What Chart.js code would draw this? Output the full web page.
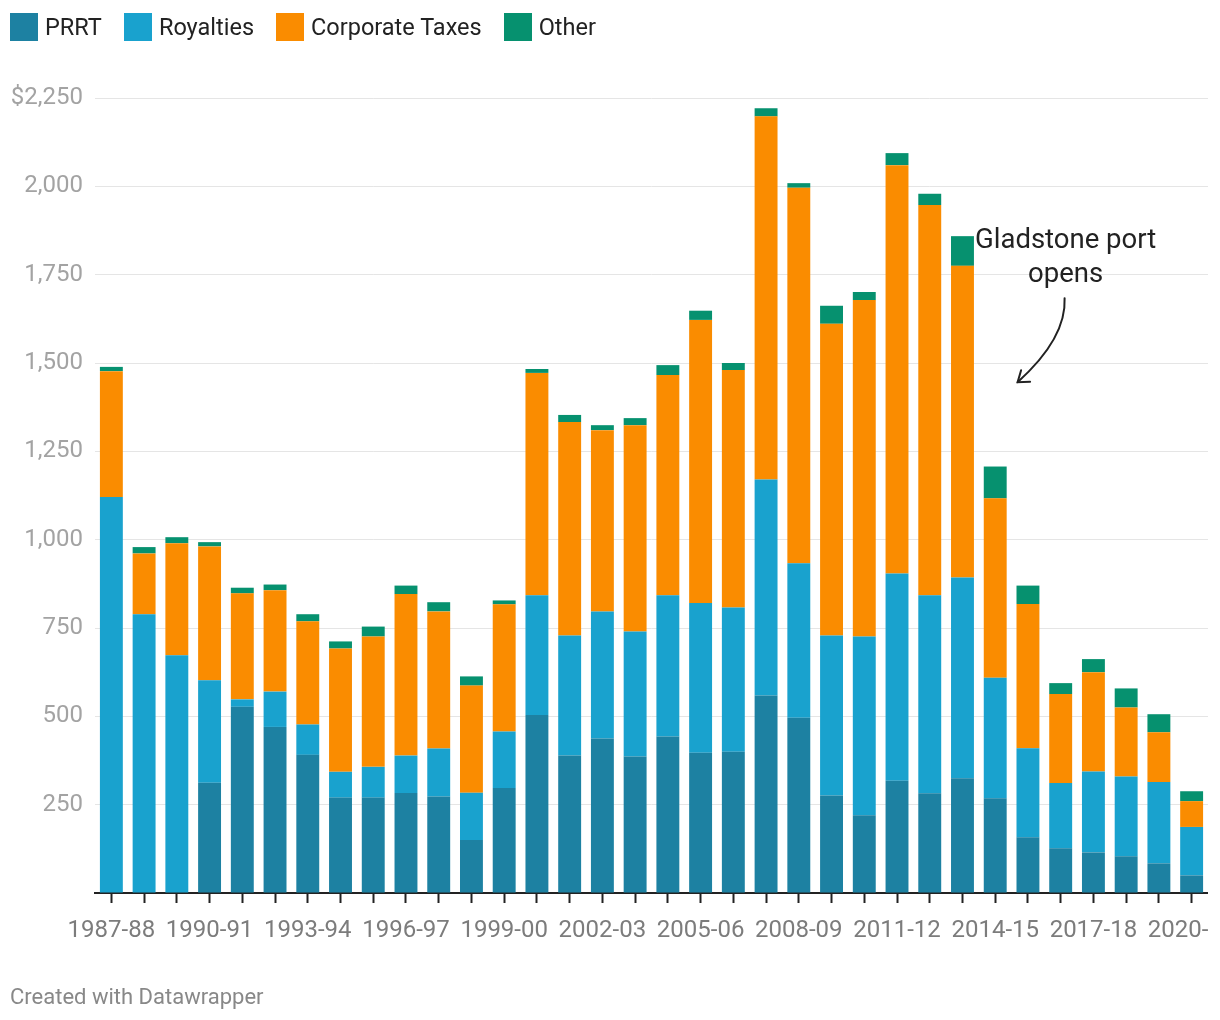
<!DOCTYPE html>
<html>
<head>
<meta charset="utf-8">
<script src="https://cdn.jsdelivr.net/npm/chart.js@4"></script>
<style>
  html, body { margin: 0; padding: 0; background: #fff; overflow: hidden; width: 1220px; height: 1020px; }
  #wrap { position: relative; width: 1220px; height: 1020px; font-family: Roboto, "Noto Sans", sans-serif; }
  #clip { position: absolute; left: 0; top: 0; width: 1209px; height: 1020px; overflow: hidden; }
  #chart { position: absolute; left: 0; top: 0; }
  #legend { position: absolute; left: 10px; top: 13px; display: flex; align-items: center; }
  .item { display: flex; align-items: center; margin-right: 22px; font-size: 23.5px; color: #222; }
  .sw { width: 28px; height: 28px; margin-right: 7px; }
  #footer { position: absolute; left: 10px; top: 984px; font-size: 22px; color: #888; }
</style>
</head>
<body>
<div id="wrap">
  <div id="clip"><canvas id="chart" width="1250" height="1020"></canvas></div>
  <div id="legend"></div>
  <div id="footer">Created with Datawrapper</div>
</div>
<script>
// anni fiscali
const years = ["1987-88","1988-89","1989-90","1990-91","1991-92","1992-93","1993-94","1994-95","1995-96","1996-97",
  "1997-98","1998-99","1999-00","2000-01","2001-02","2002-03","2003-04","2004-05","2005-06","2006-07",
  "2007-08","2008-09","2009-10","2010-11","2011-12","2012-13","2013-14","2014-15","2015-16","2016-17",
  "2017-18","2018-19","2019-20","2020-21"];

const prrt = [0, 0, 0, 312, 527, 470, 391, 270, 270, 283,
  273, 150, 297, 504, 389, 437, 386, 443, 397, 400,
  559, 496, 276, 220, 318, 282, 325, 268, 158, 127,
  115, 104, 84, 50];
const royalties = [1121, 789, 673, 290, 21, 100, 86, 73, 87, 106,
  136, 134, 160, 339, 340, 360, 354, 400, 424, 408,
  611, 437, 453, 506, 586, 561, 568, 341, 252, 184,
  229, 226, 230, 137];
const corporateTaxes = [356, 172, 317, 379, 300, 287, 292, 349, 369, 457,
  388, 303, 360, 629, 604, 513, 584, 623, 801, 672,
  1028, 1063, 882, 952, 1156, 1104, 882, 508, 408, 252,
  281, 195, 141, 73];
const other = [12, 18, 17, 12, 16, 16, 20, 20, 28, 24,
  26, 26, 11, 11, 20, 14, 20, 28, 26, 20,
  23, 13, 51, 23, 34, 32, 84, 90, 52, 31,
  37, 54, 51, 28];

const yTicks = [0, 250, 500, 750, 1000, 1250, 1500, 1750, 2000, 2250];

const series = [
  { label: "PRRT", data: prrt, color: "#1d81a2" },
  { label: "Royalties", data: royalties, color: "#19a2ce" },
  { label: "Corporate Taxes", data: corporateTaxes, color: "#fa8c00" },
  { label: "Other", data: other, color: "#06916f" }
];

// legenda html
const legendEl = document.getElementById("legend");
series.forEach(s => {
  let item = document.createElement("div");
  item.className = "item";
  item.innerHTML = `<div class="sw" style="background:${s.color}"></div><span>${s.label}</span>`;
  legendEl.appendChild(item);
});

// annotazione Gladstone
const note = { lines: ["Gladstone port", "opens"], at: 29.15, value: 1825 };

const notePlugin = {
  id: "note",
  afterDraw(chart) {
    const ctx = chart.ctx, xs = chart.scales.x, ys = chart.scales.y;
    let i = Math.floor(note.at);
    let x = xs.getPixelForValue(i) + (note.at - i) * (xs.getPixelForValue(i + 1) - xs.getPixelForValue(i));
    let y = ys.getPixelForValue(note.value);
    ctx.save();
    ctx.fillStyle = "#222";
    ctx.font = "27.5px Roboto";
    ctx.textAlign = "center";
    ctx.textBaseline = "alphabetic";
    note.lines.forEach((t, k) => ctx.fillText(t, x, y + k * 34));
    // freccia curva
    ctx.strokeStyle = "#222";
    ctx.lineWidth = 2;
    ctx.lineCap = "round";
    ctx.beginPath();
    ctx.moveTo(x - 1, y + 50);
    ctx.quadraticCurveTo(x + 1, y + 90, x - 48, y + 134);
    ctx.stroke();
    ctx.beginPath();
    ctx.moveTo(x - 48 + 3.5, y + 122);
    ctx.lineTo(x - 48, y + 134);
    ctx.lineTo(x - 48 + 12.5, y + 133.5);
    ctx.stroke();
    ctx.restore();
  }
};

new Chart(document.getElementById("chart").getContext("2d"), {
  type: "bar",
  data: {
    labels: years,
    datasets: series.map(s => ({
      label: s.label, data: s.data, backgroundColor: s.color,
      borderWidth: 0, categoryPercentage: 1.0, barPercentage: 0.7
    }))
  },
  options: {
    responsive: false,
    animation: false,
    layout: { padding: { left: 10, right: 40, top: 98, bottom: 67 } },
    plugins: { legend: { display: false }, tooltip: { enabled: false } },
    scales: {
      x: {
        stacked: true,
        afterFit: s => { s.height = 60; },
        grid: { drawOnChartArea: false, offset: false, tickLength: 10, tickWidth: 2, tickColor: "#222" },
        border: { color: "#222", width: 2 },
        ticks: {
          autoSkip: false, maxRotation: 0, padding: 14,
          color: "#7c7c7c", font: { family: "Roboto", size: 24 },
          callback: function(v, i) { return i % 3 === 0 ? years[i] : ""; }
        }
      },
      y: {
        stacked: true,
        min: yTicks[0], max: yTicks[yTicks.length - 1],
        afterFit: s => { s.width = 85; },
        afterBuildTicks: s => { s.ticks = yTicks.map(v => ({ value: v })); },
        grid: { color: "#e5e5e5", lineWidth: 1, drawTicks: false },
        border: { display: false },
        ticks: {
          padding: 12, color: "#a3a3a3", font: { family: "Roboto", size: 24 },
          callback: v => v === 0 ? "" : (v === 2250 ? "$" : "") + v.toLocaleString("en-US")
        }
      }
    }
  },
  plugins: [notePlugin]
});
</script>
</body>
</html>
